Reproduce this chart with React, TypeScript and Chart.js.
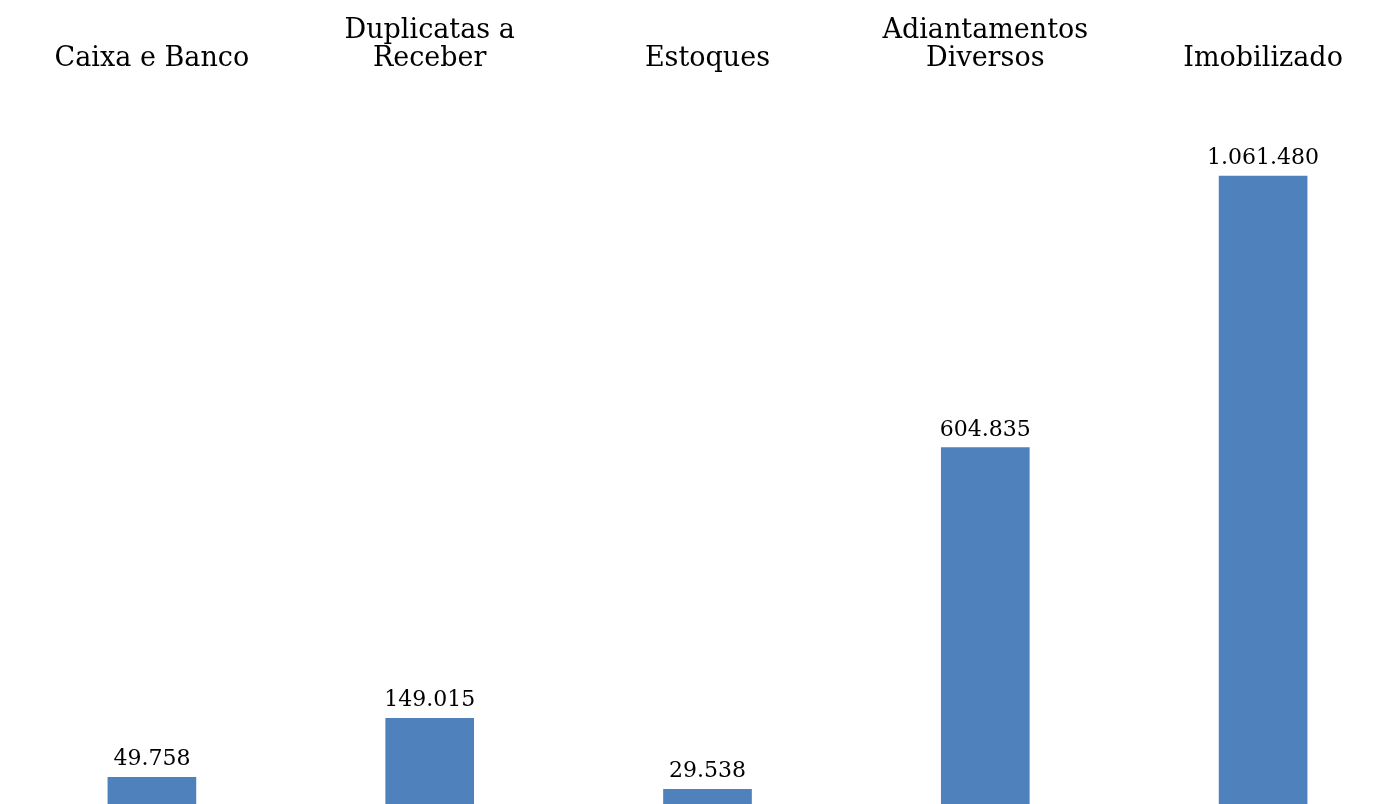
import React, { useEffect, useRef } from "react";
import { Chart, registerables } from "chart.js";

Chart.register(...registerables);

const categories: (string | string[])[] = [
  "Caixa e Banco",
  ["Duplicatas a", "Receber"],
  "Estoques",
  ["Adiantamentos", "Diversos"],
  "Imobilizado",
];
const values: number[] = [49758, 149015, 29538, 604835, 1061480];

const FONT = "'DejaVu Serif', serif";

function fmt(n: number): string {
  return String(Math.round(n)).replace(/\B(?=(\d{3})+(?!\d))/g, ".");
}

const dataLabelPlugin = {
  id: "dataLabels",
  afterDatasetsDraw(chart: any) {
    const ctx = chart.ctx;
    const meta = chart.getDatasetMeta(0);
    ctx.save();
    ctx.font = `22px ${FONT}`;
    ctx.fillStyle = "#000000";
    ctx.textAlign = "center";
    ctx.textBaseline = "alphabetic";
    meta.data.forEach((bar: any, i: number) => {
      ctx.fillText(fmt(values[i]), bar.x, bar.y - 12);
    });
    ctx.restore();
  },
};

export default function App() {
  const ref = useRef<HTMLCanvasElement | null>(null);
  useEffect(() => {
    if (!ref.current) return;
    const chart = new Chart(ref.current, {
      type: "bar",
      data: {
        labels: categories,
        datasets: [
          {
            data: values,
            backgroundColor: "#4F81BD",
            borderWidth: 0,
            barThickness: 88,
          },
        ],
      },
      options: {
        responsive: false,
        animation: false,
        layout: { padding: { top: 14, left: 0, right: 0, bottom: 0 } },
        plugins: {
          legend: { display: false },
          tooltip: { enabled: false },
        },
        scales: {
          x: {
            position: "top",
            grid: { display: false, drawTicks: false },
            border: { display: false },
            ticks: {
              color: "#000000",
              padding: 3,
              maxRotation: 0,
              autoSkip: false,
              font: { family: FONT, size: 27, lineHeight: "28px" },
            },
          },
          y: {
            display: false,
            min: 0,
            max: 1230000,
          },
        },
      },
      plugins: [dataLabelPlugin],
    });
    return () => chart.destroy();
  }, []);
  return (
    <div
      style={{
        position: "fixed",
        left: 0,
        top: 0,
        width: 1391,
        height: 804,
        overflow: "hidden",
        background: "#ffffff",
      }}
    >
      <canvas
        ref={ref}
        width={1389}
        height={807}
        style={{ position: "absolute", left: 13, top: 0 }}
      />
    </div>
  );
}
